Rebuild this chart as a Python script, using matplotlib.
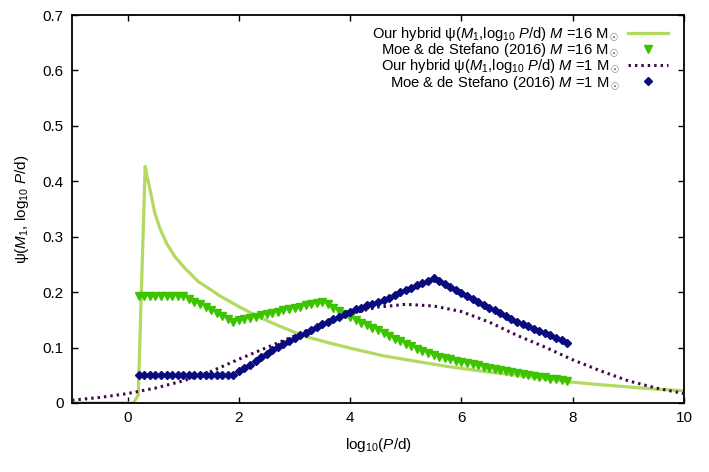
import matplotlib
matplotlib.use("Agg")
import matplotlib.pyplot as plt
from matplotlib.ticker import FormatStrFormatter

plt.rcParams['font.family'] = ['Liberation Sans', 'DejaVu Sans']
plt.rcParams['mathtext.fontset'] = 'custom'
plt.rcParams['mathtext.rm'] = 'Liberation Sans'
plt.rcParams['mathtext.it'] = 'Liberation Sans:italic'
plt.rcParams['font.size'] = 11

# hybrid psi for M = 16 Msun (solid light green)
hyb16_x = [-1.0, 0.1, 0.19, 0.315, 0.34, 0.37, 0.40, 0.435, 0.49, 0.58, 0.70, 0.85,
           1.03, 1.27, 1.5, 1.66, 2.0, 2.32, 2.7, 3.16, 3.6, 4.0, 4.6, 5.2, 5.74, 6.4,
           6.93, 7.5, 7.95, 8.5, 9.0, 9.5, 10.0]
hyb16_y = [0.0, 0.0, 0.014, 0.427, 0.413, 0.399, 0.386, 0.369, 0.342, 0.315, 0.288, 0.264,
           0.243, 0.219, 0.204, 0.193, 0.174, 0.157, 0.140, 0.121, 0.109, 0.099, 0.085,
           0.075, 0.066, 0.057, 0.051, 0.044, 0.038, 0.033, 0.029, 0.025, 0.022]

# hybrid psi for M = 1 Msun (dotted dark purple)
hyb1_x = [-1.0, -0.5, 0.0, 0.5, 1.0, 1.5, 2.0, 2.5, 3.0, 3.5, 4.0, 4.5, 5.0, 5.5, 6.0,
          6.5, 7.0, 7.5, 8.0, 8.5, 9.0, 9.5, 10.0]
hyb1_y = [0.005, 0.010, 0.017, 0.027, 0.040, 0.057, 0.079, 0.100, 0.121, 0.143, 0.161,
          0.173, 0.178, 0.175, 0.165, 0.146, 0.122, 0.101, 0.078, 0.058, 0.040, 0.027, 0.017]

# Moe & di Stefano tabulated log10 P grid
moe_x = [0.2, 0.3, 0.4, 0.5, 0.6, 0.7, 0.8, 0.9, 1.0, 1.1, 1.2, 1.3, 1.4, 1.5, 1.6, 1.7,
         1.8, 1.9, 2.0, 2.1, 2.2, 2.3, 2.4, 2.5, 2.6, 2.7, 2.8, 2.9, 3.0, 3.1, 3.2, 3.3,
         3.4, 3.5, 3.6, 3.7, 3.8, 3.9, 4.0, 4.1, 4.2, 4.3, 4.4, 4.5, 4.6, 4.7, 4.8, 4.9,
         5.0, 5.1, 5.2, 5.3, 5.4, 5.5, 5.6, 5.7, 5.8, 5.9, 6.0, 6.1, 6.2, 6.3, 6.4, 6.5,
         6.6, 6.7, 6.8, 6.9, 7.0, 7.1, 7.2, 7.3, 7.4, 7.5, 7.6, 7.7, 7.8, 7.9]

moe16_y = [0.193, 0.193, 0.193, 0.193, 0.193, 0.193, 0.193, 0.193, 0.193,
           0.188, 0.183, 0.178, 0.173, 0.168, 0.162, 0.157, 0.152, 0.147,
           0.149, 0.152, 0.154, 0.156, 0.158, 0.161, 0.163, 0.165, 0.167, 0.170, 0.172,
           0.174, 0.176, 0.179, 0.181, 0.183,
           0.178, 0.172, 0.166, 0.161, 0.155, 0.150, 0.145, 0.140, 0.135, 0.131, 0.126,
           0.121, 0.116, 0.111, 0.106, 0.102, 0.098, 0.094, 0.090, 0.086,
           0.083, 0.081, 0.079, 0.076, 0.074, 0.072, 0.070, 0.068, 0.065, 0.063, 0.061,
           0.059, 0.057, 0.056, 0.054, 0.052, 0.050, 0.049, 0.047, 0.046, 0.044, 0.043,
           0.041, 0.040]

moe1_y = [0.050, 0.050, 0.050, 0.050, 0.050, 0.050, 0.050, 0.050, 0.050, 0.050, 0.050,
          0.050, 0.050, 0.050, 0.050, 0.050, 0.050,
          0.051, 0.057, 0.063, 0.069, 0.076, 0.083, 0.089, 0.095, 0.101, 0.107, 0.112,
          0.117, 0.122, 0.127, 0.132, 0.137, 0.142, 0.147, 0.152, 0.156, 0.161, 0.165,
          0.169, 0.172, 0.176, 0.179, 0.183, 0.186, 0.190, 0.195, 0.200, 0.204, 0.208,
          0.212, 0.216, 0.221, 0.225,
          0.220, 0.214, 0.209, 0.203, 0.198, 0.193, 0.188, 0.183, 0.177, 0.172, 0.167,
          0.162, 0.157, 0.151, 0.147, 0.143, 0.139, 0.134, 0.130, 0.126, 0.122, 0.118,
          0.113, 0.109]

fig = plt.figure(figsize=(7.09, 4.72), dpi=100)
ax = fig.add_axes([0.1016, 0.1462, 0.863, 0.822])

ax.plot(hyb16_x, hyb16_y, color='#b3d960', lw=2.3, zorder=2,
        label=r'Our hybrid ψ($M_1$,log$_{10}$ $P$/d) $M$ =16 M$_\odot$')
ax.plot(moe_x, moe16_y, ls='none', marker='v', ms=5.8, color='#3cc400', zorder=3,
        label=r'Moe & de Stefano (2016) $M$ =16 M$_\odot$')
ax.plot(hyb1_x, hyb1_y, color='#3e0c47', lw=2.2, ls=(0, (0.8, 1.3)), zorder=4,
        label=r'Our hybrid ψ($M_1$,log$_{10}$ $P$/d) $M$ =1 M$_\odot$')
ax.plot(moe_x, moe1_y, ls='none', marker='D', ms=3.9, color='#0b0b80', zorder=5,
        label=r'Moe & de Stefano (2016) $M$ =1 M$_\odot$')

ax.set_xlim(-1, 10)
ax.set_ylim(0, 0.7)
ax.set_xticks([0, 2, 4, 6, 8, 10])
ax.set_yticks([0, 0.1, 0.2, 0.3, 0.4, 0.5, 0.6, 0.7])
ax.yaxis.set_major_formatter(FormatStrFormatter('%g'))
ax.tick_params(direction='in', length=4.5, width=1.0, top=True, right=True,
               labelsize=11, pad=6)
for s in ax.spines.values():
    s.set_linewidth(1.3)

ax.set_xlabel(r'log$_{10}$($P$/d)', fontsize=11, labelpad=8)
ax.set_ylabel(r'ψ($M_1$, log$_{10}$ $P$/d)', fontsize=11, labelpad=8)

leg = ax.legend(loc='upper right', bbox_to_anchor=(0.974, 0.972), frameon=False,
                markerfirst=False, borderpad=0, borderaxespad=0, labelspacing=-0.08,
                handlelength=2.7, handletextpad=0.6, fontsize=10.6)

fig.savefig('out.png', dpi=100)
